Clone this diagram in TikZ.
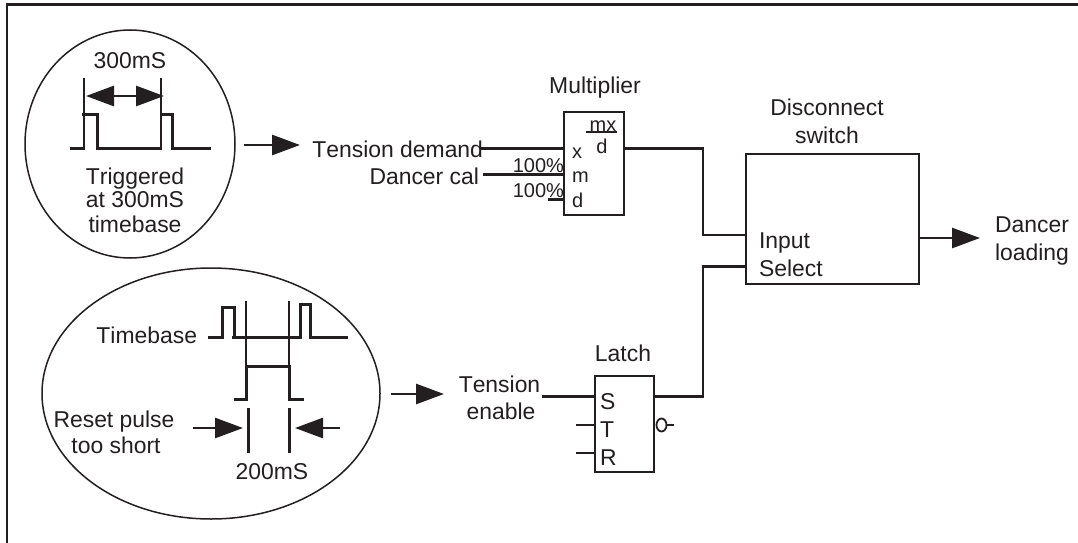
\documentclass[tikz,border=0pt]{standalone}
\usepackage{fontspec}
\setmainfont[Kerning=Off]{Liberation Sans}
\usetikzlibrary{arrows.meta,shapes.geometric}
\definecolor{ink}{HTML}{231F20}
\tikzset{
  txt/.style={inner sep=0pt,outer sep=0pt,anchor=base,text=ink,font=\fontsize{22.9}{27}\selectfont},
  txtl/.style={txt,anchor=base west},
  small/.style={txt,font=\fontsize{20}{24}\selectfont},
  wire/.style={draw=ink,line width=2.8pt},
  thin wire/.style={draw=ink,line width=2pt},
  pulse/.style={draw=ink,line width=3pt,line join=miter},
  bigarrow/.style={draw=ink,line width=2.8pt,-{Triangle[length=28pt,width=20pt]}},
  dblarrow/.style={draw=ink,line width=2.8pt,{Triangle[length=28pt,width=20pt]}-{Triangle[length=28pt,width=20pt]}},
  blockbox/.style={draw=ink,line width=1.8pt,inner sep=0pt,outer sep=0pt,fill=none},
  bubble/.style={draw=ink,line width=1.8pt,ellipse,inner sep=0pt,outer sep=0pt,minimum width=10pt,minimum height=13pt},
  circ/.style={draw=ink,line width=1.5pt,ellipse,inner sep=0pt,outer sep=0pt}
}
\begin{document}
\begin{tikzpicture}[x=1pt,y=-1pt]
\useasboundingbox (0,0) rectangle (1078,543);
\fill[white] (0,0) rectangle (1078,543);
% frame
\coordinate (fb) at (7,543);\coordinate (fc) at (7,4.5);\coordinate (fr) at (1078,4.5);
\draw[draw=ink,line width=2.2pt] (fb) -- (fc) -- (fr);

% top circle
\node[circ,minimum width=210pt,minimum height=228pt] (trig) at (130,144) {};
\node[txt] (t300) at (130,69) {300mS};
\coordinate (ta1) at (84,78);\coordinate (ta2) at (84,148);
\coordinate (tb1) at (161,78);\coordinate (tb2) at (161,148);
\draw[thin wire] (ta1) -- (ta2);
\draw[thin wire] (tb1) -- (tb2);
\coordinate (da) at (86,96);\coordinate (db) at (164,96);
\draw[dblarrow] (da) -- (db);
\draw[pulse] (70,148) -- (85,148);
\draw[pulse] (82,114.5) -- (97,114.5) -- (97,148) -- (162,148);
\draw[pulse] (161,114.5) -- (172,114.5) -- (172,148) -- (211,148);
\node[txt] (t1) at (135,184) {Triggered};
\node[txt] (t2) at (135,207) {at 300mS};
\node[txt] (t3) at (135,232) {timebase};
\coordinate (a1s) at (244,145);\coordinate (a1e) at (300,145);
\draw[bigarrow] (a1s) -- (a1e);

% lower ellipse
\node[circ,minimum width=338pt,minimum height=251pt] (tb) at (211,393.5) {};
\node[txt,anchor=base east] (ttb) at (197,343) {Timebase};
\draw[pulse] (208,337.5) -- (222,337.5) -- (222,307) -- (234,307) -- (234,337.5);
\draw[pulse] (232,337.5) -- (300,337.5) -- (300,304.5) -- (310,304.5) -- (310,337.5) -- (348,337.5);
\coordinate (c1) at (246,301);\coordinate (c2) at (246,366);
\coordinate (d1) at (289,301);\coordinate (d2) at (289,366);
\draw[thin wire] (c1) -- (c2);
\draw[thin wire] (d1) -- (d2);
\draw[pulse] (234,399.5) -- (246,399.5) -- (246,366) -- (289,366) -- (289,399.5) -- (304,399.5);
\coordinate (e1) at (248,408);\coordinate (e2) at (248,453);
\coordinate (f1) at (289,408);\coordinate (f2) at (289,453);
\draw[pulse] (e1) -- (e2);
\draw[pulse] (f1) -- (f2);
\coordinate (g1) at (193,428);\coordinate (g2) at (243,428);
\coordinate (h1) at (340,428);\coordinate (h2) at (295,428);
\draw[bigarrow] (g1) -- (g2);
\draw[bigarrow] (h1) -- (h2);
\node[txt] (r1) at (114,427) {Reset pulse};
\node[txt] (r2) at (116,453) {too short};
\node[txt] (t200) at (272,479) {200mS};
\coordinate (a2s) at (391,394);\coordinate (a2e) at (444,394);
\draw[bigarrow] (a2s) -- (a2e);

% multiplier
\node[blockbox,minimum width=60pt,minimum height=103pt] (mult) at (594,163.5) {};
\node[txt] (lmult) at (595,93) {Multiplier};
\node[txt,anchor=base east] (ltd) at (483,157) {Tension demand};
\node[txt,anchor=base east] (ldc) at (479,184) {Dancer cal};
\node[small,anchor=base east] (p1) at (564,172) {100\%};
\node[small,anchor=base east] (p2) at (564,197) {100\%};
\node[small,anchor=base west] (mxx) at (572,158) {x};
\node[small,anchor=base west] (mxm) at (572,182) {m};
\node[small,anchor=base west] (mxd) at (572,207) {d};
\node[small] (mxn) at (603,131) {mx};
\node[small] (mxo) at (602,153) {d};
\coordinate (ul1) at (586,132);\coordinate (ul2) at (617,132);
\draw[wire] (ul1) -- (ul2);
\coordinate (w1) at (481,148.5);\coordinate (w2) at (483,174.5);\coordinate (w3) at (548,199.5);
\draw[wire] (w1) -- (mult.west |- w1);
\draw[wire] (w2) -- (mult.west |- w2);
\draw[wire] (w3) -- (mult.west |- w3);

% latch
\node[blockbox,minimum width=59pt,minimum height=96pt] (latch) at (624.5,424) {};
\node[txt] (llatch) at (623,361) {Latch};
\node[txt] (lten1) at (499.5,392) {Tension};
\node[txt] (lten2) at (501,419) {enable};
\node[txtl] (ls) at (600,409) {S};
\node[txtl] (lt) at (600,437) {T};
\node[txtl] (lr) at (600,465) {R};
\coordinate (x1) at (542,396.5);\coordinate (x2) at (576,425);\coordinate (x3) at (576,453);
\draw[wire] (x1) -- (latch.west |- x1);
\draw[wire] (x2) -- (latch.west |- x2);
\draw[wire] (x3) -- (latch.west |- x3);
\node[bubble] (bub) at (661.5,425) {};
\coordinate (bo) at (674,425);
\draw[wire] (bub.east) -- (bo);

% disconnect switch
\node[blockbox,minimum width=173pt,minimum height=130pt] (sw) at (832.5,219) {};
\node[txt] (ld1) at (827,115) {Disconnect};
\node[txt] (ld2) at (827,143) {switch};
\node[txtl] (lin) at (759,248) {Input};
\node[txtl] (lsel) at (759,276) {Select};
\coordinate (sa) at (sw.west |- 0,235);
\coordinate (sb) at (sw.west |- 0,266.5);
\coordinate (ma) at (mult.east |- 0,148.5);
\coordinate (la) at (latch.east |- 0,396.5);
\draw[wire,line cap=rect] (ma) -- (703,148.5) -- (703,235) -- (sa);
\draw[wire] (la) -- (703,396.5) -- (703,266.5) -- (sb);
\coordinate (oa) at (sw.east |- 0,238);\coordinate (ob) at (980,238);
\draw[bigarrow] (oa) -- (ob);
\node[txt] (ld3) at (1032,232) {Dancer};
\node[txt] (ld4) at (1032,260) {loading};
\end{tikzpicture}
\end{document}
